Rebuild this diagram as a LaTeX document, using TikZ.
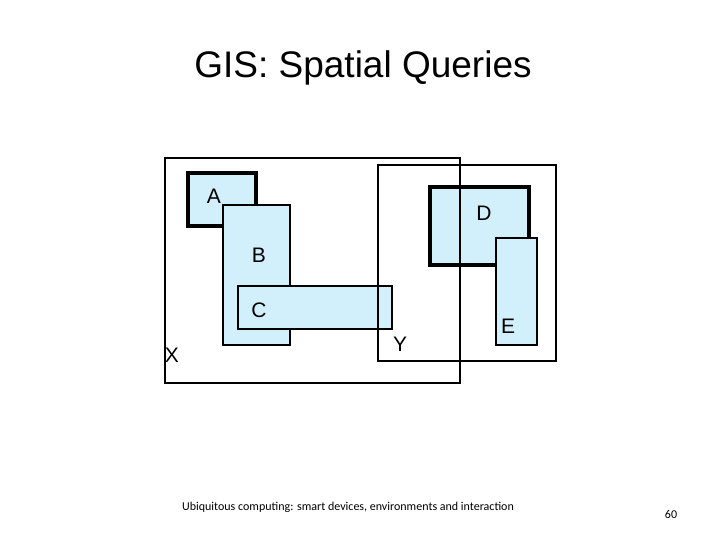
\documentclass[tikz,border=0pt]{standalone}
\usepackage{fontspec}
\setmainfont{Liberation Sans}
\newfontfamily\foot{Carlito}
\begin{document}
\begin{tikzpicture}[x=1pt,y=-1pt,
  reg/.style={draw=black,fill=cyan!18,line width=1.4pt},
  thickreg/.style={draw=black,fill=cyan!18,line width=4pt},
  frame/.style={draw=black,line width=1.4pt},
  lab/.style={font=\fontsize{21}{21}\selectfont,inner sep=0pt}]
\useasboundingbox (0,0) rectangle (720,540);
\node[font=\fontsize{37}{37}\selectfont] (title) at (363,68) {GIS: Spatial Queries};
\draw[thickreg] (188,173) rectangle (256,226);
\draw[reg] (223,205) rectangle (290,345);
\draw[reg] (238,286) rectangle (392,329);
\draw[thickreg] (430,187) rectangle (529,265);
\draw[reg] (496,238) rectangle (537,345);
\draw[frame] (165,158) rectangle (460,383);
\draw[frame] (378,165) rectangle (556,361);
\node[lab] (a) at (214,196) {A};
\node[lab] (b) at (259,255) {B};
\node[lab] (c) at (259,310) {C};
\node[lab] (d) at (484,213) {D};
\node[lab] (e) at (508,326) {E};
\node[lab] (x) at (172,355) {X};
\node[lab] (y) at (400,344) {Y};
\node[font=\foot\fontsize{12}{12}\selectfont] (f) at (348,507) {Ubiquitous computing: smart devices, environments and interaction};
\node[font=\foot\fontsize{12}{12}\selectfont] (n) at (671,514) {60};
\end{tikzpicture}
\end{document}
